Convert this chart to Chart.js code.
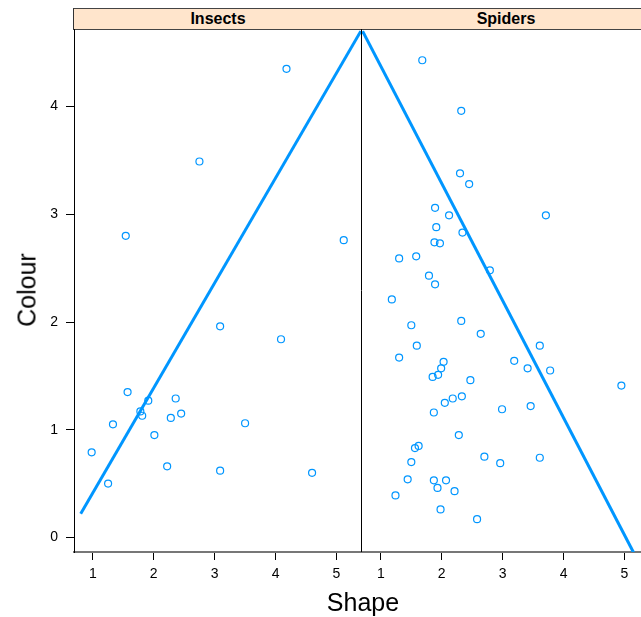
<!DOCTYPE html>
<html>
<head>
<meta charset="utf-8">
<script src="https://cdn.jsdelivr.net/npm/chart.js@4/dist/chart.umd.min.js"></script>
<style>
  html, body { margin: 0; padding: 0; background: #fff; overflow: hidden; }
  #wrap { position: relative; width: 641px; height: 617px; overflow: hidden; font-family: "Liberation Sans", Arial, Helvetica, sans-serif; }
  .panel { position: absolute; top: 29px; height: 560px; }
  .strip { position: absolute; top: 8px; height: 20px; background: #ffe5cc;
           border-top: 1px solid #444; border-bottom: 1px solid #444;
           font-weight: bold; font-size: 16px; line-height: 20px; text-align: center; color: #000; }
  #stripL { left: 73px; width: 288px; border-left: 1px solid #333; border-right: 1px solid #333; }
  #stripR { left: 362px; width: 288px; }
  #xlab { position: absolute; left: 0; width: 726px; top: 588px; text-align: center; font-size: 25px; color: #000; }
  #ylab { position: absolute; left: 27px; top: 290px; transform: translate(-50%, -50%) rotate(-90deg); font-size: 25px; color: #000; white-space: nowrap; }
</style>
</head>
<body>
<div id="wrap">
  <div class="strip" id="stripL">Insects</div>
  <div class="strip" id="stripR">Spiders</div>
  <div class="panel" style="left:0; width:362px;"><canvas id="insects" width="362" height="560"></canvas></div>
  <div class="panel" style="left:362px; width:288px;"><canvas id="spiders" width="288" height="560"></canvas></div>
  <div id="xlab">Shape</div>
  <div id="ylab">Colour</div>
</div>
<script>
// Insects panel
const insectShape  = [4.18, 2.75, 1.54, 5.12, 3.09, 4.09, 1.57, 1.91, 2.36, 1.78, 1.81,
                      2.28, 2.45, 1.33, 3.50, 2.01, 0.98, 2.22, 3.09, 4.60, 1.25];
const insectColour = [4.35, 3.49, 2.80, 2.76, 1.96, 1.84, 1.35, 1.27, 1.29, 1.17, 1.13,
                      1.11, 1.15, 1.05, 1.06, 0.95, 0.79, 0.66, 0.62, 0.60, 0.50];
const insectLineX = [0.80, 5.40];
const insectLineY = [0.22, 4.70];

// Spiders panel
const spiderShape  = [1.68, 2.32, 2.30, 2.45, 1.89, 2.12, 3.71, 1.91, 2.34, 1.88, 1.97,
                      1.30, 1.58, 2.79, 1.79, 1.89, 1.18, 2.32, 1.50, 2.64, 3.61, 1.59,
                      1.30, 3.19, 2.03, 1.99, 3.41, 3.78, 1.94, 1.85, 2.47, 4.95, 2.33,
                      2.18, 2.05, 3.46, 2.99, 1.87, 2.28, 1.62, 1.56, 2.70, 3.61, 2.96,
                      1.50, 1.44, 1.87, 2.07, 1.93, 2.21, 1.24, 1.98, 2.58];
const spiderColour = [4.43, 3.96, 3.38, 3.28, 3.06, 2.99, 2.99, 2.88, 2.83, 2.74, 2.73,
                      2.59, 2.61, 2.48, 2.43, 2.35, 2.21, 2.01, 1.97, 1.89, 1.78, 1.78,
                      1.67, 1.64, 1.63, 1.57, 1.57, 1.55, 1.51, 1.49, 1.46, 1.41, 1.31,
                      1.29, 1.25, 1.22, 1.19, 1.16, 0.95, 0.85, 0.83, 0.75, 0.74, 0.69,
                      0.70, 0.54, 0.53, 0.53, 0.46, 0.43, 0.39, 0.26, 0.17];
const spiderLineX = [0.70, 5.15];
const spiderLineY = [4.70, -0.14];

const xTicks = [1, 2, 3, 4, 5];
const yTicks = [0, 1, 2, 3, 4];
const X_MIN = 0.69, X_MAX = 5.42, Y_MIN = -0.135, Y_MAX = 4.72;

const BLUE = '#0096ff';
const FONT = '"Liberation Sans", Arial, Helvetica, sans-serif';

function pts(xs, ys) { return xs.map((x, i) => ({ x: x, y: ys[i] })); }

// vertical line between the two panels
const divider = {
  id: 'divider',
  afterDraw(chart, args, opts) {
    if (!opts.on) return;
    const a = chart.chartArea, ctx = chart.ctx;
    ctx.save();
    ctx.strokeStyle = '#000';
    ctx.lineWidth = 1;
    ctx.beginPath();
    ctx.moveTo(a.right - 0.5, a.top);
    ctx.lineTo(a.right - 0.5, a.bottom);
    ctx.stroke();
    ctx.restore();
  }
};

function makePanel(id, sx, sy, lx, ly, first) {
  return new Chart(document.getElementById(id), {
    type: 'scatter',
    data: {
      datasets: [
        { data: pts(lx, ly), showLine: true, borderColor: BLUE, borderWidth: 3,
          pointRadius: 0, order: 0 },
        { data: pts(sx, sy), pointStyle: 'circle', pointRadius: 3.5,
          borderColor: BLUE, backgroundColor: 'rgba(0,0,0,0)', borderWidth: 1.2, order: 1 }
      ]
    },
    options: {
      responsive: false,
      animation: false,
      layout: { padding: 0, autoPadding: false },
      plugins: { legend: { display: false }, tooltip: { enabled: false }, divider: { on: first } },
      scales: {
        x: {
          type: 'linear', min: X_MIN, max: X_MAX,
          afterBuildTicks: s => { s.ticks = xTicks.map(v => ({ value: v })); },
          afterFit: s => { s.height = 37; s.paddingLeft = 0; s.paddingRight = 0; },
          grid: { drawOnChartArea: false, tickLength: 8, tickColor: '#000' },
          border: { display: true, color: '#777', width: 2 },
          ticks: { color: '#000', font: { family: FONT, size: 14 }, padding: 6, maxRotation: 0 }
        },
        y: {
          display: first,
          min: Y_MIN, max: Y_MAX,
          afterBuildTicks: s => { s.ticks = yTicks.map(v => ({ value: v })); },
          afterFit: s => { s.width = first ? 74 : 0; s.paddingTop = 0; s.paddingBottom = 0; },
          grid: { drawOnChartArea: false, tickLength: 8, tickColor: '#000' },
          border: { display: true, color: '#000', width: 1 },
          ticks: { color: '#000', font: { family: FONT, size: 14 }, padding: 8 }
        }
      }
    },
    plugins: [divider]
  });
}

makePanel('insects', insectShape, insectColour, insectLineX, insectLineY, true);
makePanel('spiders', spiderShape, spiderColour, spiderLineX, spiderLineY, false);
</script>
</body>
</html>
